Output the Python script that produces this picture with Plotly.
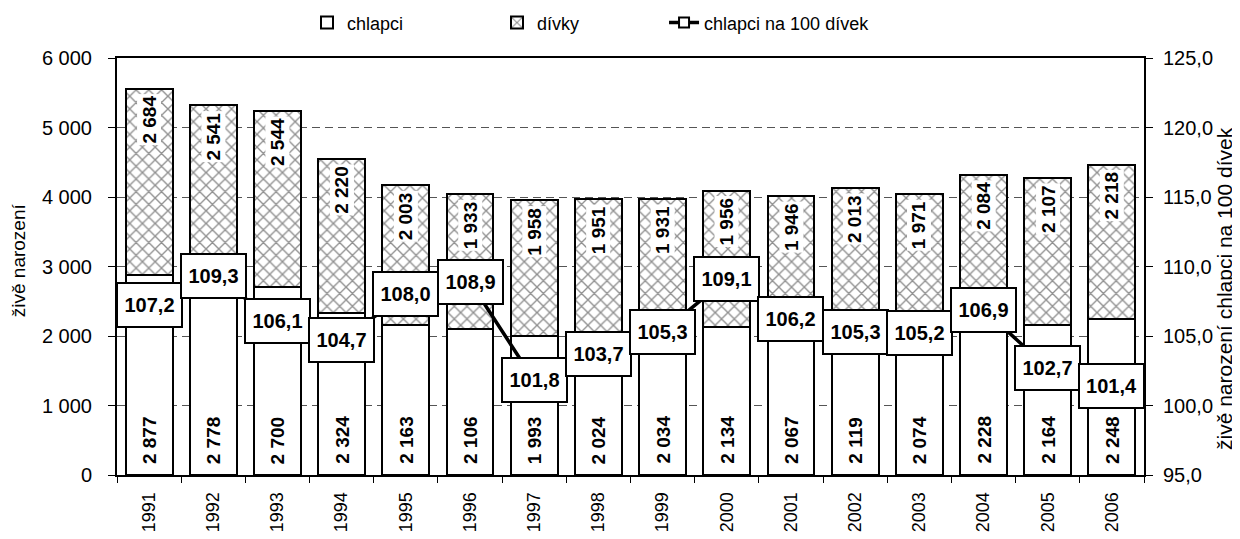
import plotly.graph_objects as go

# data
years = [str(y) for y in range(1991, 2007)]
chlapci = [2877, 2778, 2700, 2324, 2163, 2106, 1993, 2024, 2034, 2134, 2067, 2119, 2074, 2228, 2164, 2248]
divky = [2684, 2541, 2544, 2220, 2003, 1933, 1958, 1951, 1931, 1956, 1946, 2013, 1971, 2084, 2107, 2218]
pomer = [107.2, 109.3, 106.1, 104.7, 108.0, 108.9, 101.8, 103.7, 105.3, 109.1, 106.2, 105.3, 105.2, 106.9, 102.7, 101.4]

font = "Liberation Sans, Arial, sans-serif"


def fmt_int(v):
    return "{:,}".format(v).replace(",", " ")


def fmt_dec(v):
    return "{:.1f}".format(v).replace(".", ",")


fig = go.Figure()
fig.add_trace(go.Bar(
    x=years, y=chlapci, name="chlapci", legend="legend",
    marker=dict(color="white", line=dict(color="black", width=2)),
))
fig.add_trace(go.Bar(
    x=years, y=divky, name="dívky", legend="legend2",
    marker=dict(color="white", line=dict(color="black", width=2),
                pattern=dict(shape="x", fgcolor="#222222", bgcolor="white", size=9, solidity=0.28)),
))
fig.add_trace(go.Scatter(
    x=years, y=pomer, name="chlapci na 100 dívek", legend="legend3", yaxis="y2",
    mode="lines+markers",
    line=dict(color="black", width=3.5),
    marker=dict(symbol="square", size=10, color="white", line=dict(color="black", width=2)),
))

# labels (x given as category index)
for i, (c, d, p) in enumerate(zip(chlapci, divky, pomer)):
    fig.add_annotation(x=i, y=0, yref="y", text="<b>%s</b>" % fmt_int(c), textangle=-90,
                       showarrow=False, yanchor="bottom", yshift=9,
                       font=dict(family=font, size=19, color="black"))
    fig.add_annotation(x=i, y=c + d, yref="y", text="<b>%s</b>" % fmt_int(d), textangle=-90,
                       showarrow=False, yanchor="top", yshift=-5, bgcolor="white", borderpad=1,
                       font=dict(family=font, size=19, color="black"))
    fig.add_annotation(x=i, y=p, yref="y2", text="<b>%s</b>" % fmt_dec(p),
                       showarrow=False, bgcolor="white", bordercolor="black", borderwidth=2,
                       width=61, height=40,
                       font=dict(family=font, size=20, color="black"))

# axis titles
fig.add_annotation(x=-0.0964, y=0.515, xref="paper", yref="paper", text="živě narození",
                   textangle=-90, showarrow=False, xanchor="center", yanchor="middle",
                   font=dict(family=font, size=19, color="black"))
fig.add_annotation(x=1.0779, y=0.446, xref="paper", yref="paper",
                   text="živě narození chlapci na 100 dívek",
                   textangle=-90, showarrow=False, xanchor="center", yanchor="middle",
                   font=dict(family=font, size=21, color="black"))

leg = dict(orientation="h", xref="container", yref="container", y=0.972, yanchor="middle",
           xanchor="left", font=dict(size=18), bgcolor="rgba(0,0,0,0)")

fig.update_layout(
    width=1232, height=531,
    barmode="stack", bargap=0.27,
    separators=", ",
    plot_bgcolor="white", paper_bgcolor="white",
    font=dict(family=font, size=19, color="black"),
    margin=dict(l=109, r=96, t=50, b=64, autoexpand=False),
    showlegend=True,
    legend=dict(leg, x=0.2427),
    legend2=dict(leg, x=0.3969),
    legend3=dict(leg, x=0.5325),
    xaxis=dict(type="category", range=[-0.5, len(years) - 0.5], tickangle=-90,
               tickson="boundaries", ticks="outside", ticklabelstandoff=8,
               ticklen=6, tickcolor="black", showline=True, linecolor="black", linewidth=2,
               mirror=True, tickfont=dict(size=18)),
    yaxis=dict(range=[0, 6000], dtick=1000, tickformat=",d", ticks="outside", ticklen=7,
               ticklabelstandoff=12, tickfont=dict(size=20),
               tickcolor="black", showline=True, linecolor="black", linewidth=2,
               showgrid=True, gridcolor="#555555", griddash="8px,5px", gridwidth=1,
               zeroline=False),
    yaxis2=dict(range=[95, 125], dtick=5, tickformat=".1f", overlaying="y", side="right",
                ticks="outside", ticklen=7, ticklabelstandoff=6, tickfont=dict(size=20),
                tickcolor="black", showline=True, linecolor="black",
                linewidth=2, showgrid=False, zeroline=False),
)

fig.write_html("out.html")
